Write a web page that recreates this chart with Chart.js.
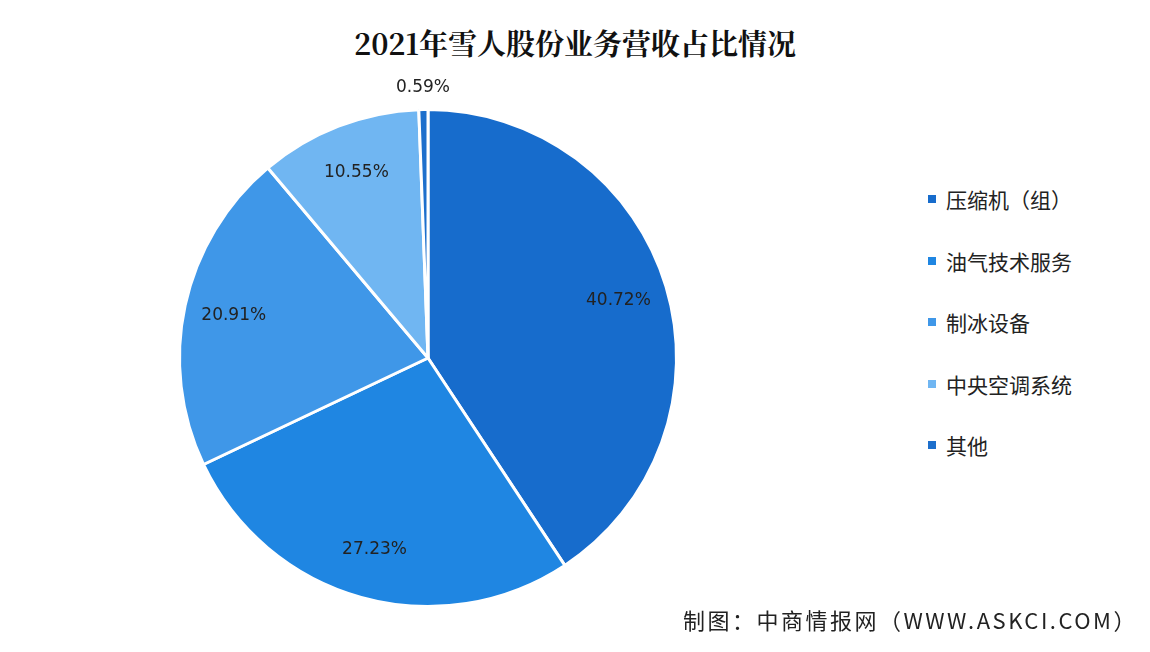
<!DOCTYPE html>
<html><head><meta charset="utf-8">
<script src="https://cdn.jsdelivr.net/npm/chart.js@4"></script>
<style>
body{margin:0;width:1150px;height:652px;background:#fff;position:relative;overflow:hidden;font-family:"Noto Sans CJK SC",sans-serif;}
#title{position:absolute;top:22px;left:0;width:1150px;text-align:center;font-family:"Noto Serif CJK SC","Noto Sans CJK SC",serif;font-weight:bold;font-size:29px;color:#111;}
#wrap{position:absolute;left:0;top:0;width:860px;height:652px;}
#legend{position:absolute;left:928px;top:184px;font-size:21px;color:#222;}
#legend div{height:61.5px;display:flex;align-items:flex-start;}
#legend span.m{display:inline-block;width:8px;height:8px;margin-right:10px;margin-top:11px;}
#foot{position:absolute;right:12px;top:603px;font-size:22px;letter-spacing:2.5px;color:#222;}
</style></head><body>
<div id="title">2021年雪人股份业务营收占比情况</div>
<div id="wrap"><canvas id="c"></canvas></div>
<div id="legend"></div>
<div id="foot">制图：中商情报网（WWW.ASKCI.COM）</div>
<script>
const categories=["压缩机（组）","油气技术服务","制冰设备","中央空调系统","其他"];
const values=[40.72,27.23,20.91,10.55,0.59];
const colors=["#176ccc","#1f86e2","#3f97e8","#70b6f2","#1d6fcc"];
const leg=document.getElementById('legend');
categories.forEach((c,i)=>{const d=document.createElement('div');d.innerHTML='<span class="m" style="background:'+colors[i]+'"></span>'+c;leg.appendChild(d);});
const labelPlugin={id:'lbl',afterDatasetsDraw(ch){const ctx=ch.ctx;const meta=ch.getDatasetMeta(0);ctx.save();ctx.font='17px "DejaVu Sans",sans-serif';ctx.fillStyle='#222';ctx.textAlign='center';ctx.textBaseline='middle';
meta.data.forEach((a,i)=>{const mid=(a.startAngle+a.endAngle)/2;let r=a.outerRadius*0.8;if(values[i]<2)r=a.outerRadius+22;
ctx.fillText(values[i].toFixed(2)+'%',a.x+Math.cos(mid)*r,a.y+Math.sin(mid)*r);});ctx.restore();}};
new Chart(document.getElementById('c'),{type:'pie',data:{labels:categories,datasets:[{data:values,backgroundColor:colors,borderColor:'#fff',borderWidth:3}]},
options:{responsive:true,maintainAspectRatio:false,animation:false,layout:{padding:{top:108,bottom:44,left:178,right:182}},plugins:{legend:{display:false},tooltip:{enabled:false}}},plugins:[labelPlugin]});
</script></body></html>
